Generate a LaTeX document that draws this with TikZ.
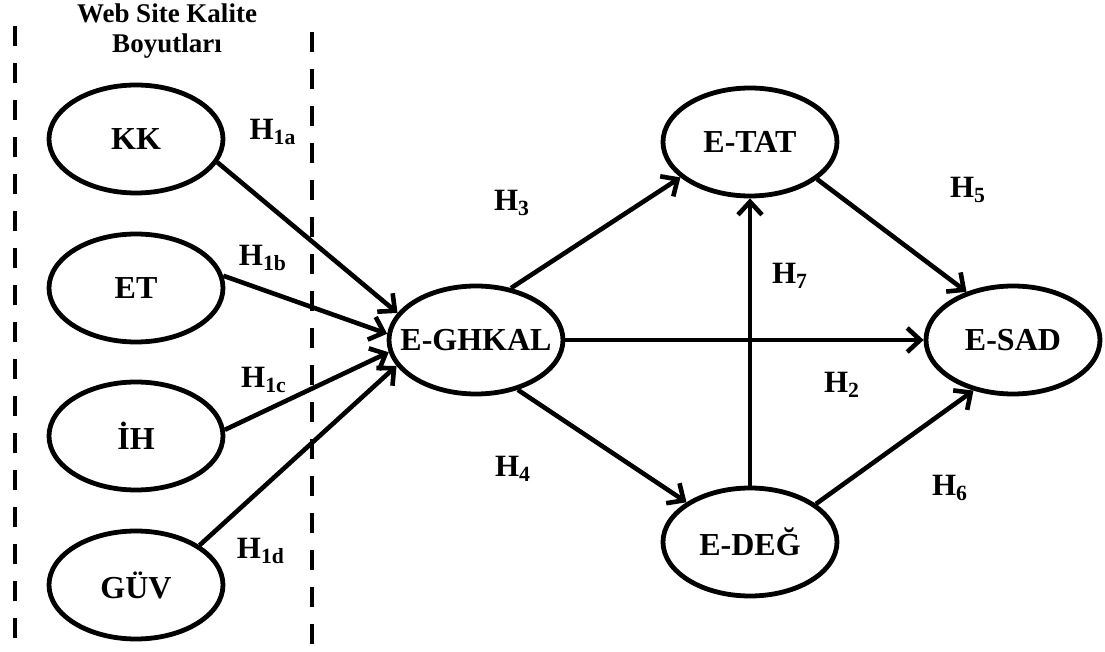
\documentclass[tikz,border=0pt]{standalone}
\usepackage{fontspec}
\setmainfont{Liberation Serif}
\usetikzlibrary{shapes.geometric,arrows.meta}

\begin{document}
\begin{tikzpicture}[x=0.5pt, y=-0.5pt, line width=2.3pt, >={Straight Barb[length=6.5pt,width=12pt]},
    main node/.style={ellipse,draw,line width=2.4pt,inner sep=0pt,minimum width=87pt,minimum height=54pt,font=\fontsize{16}{18}\selectfont\bfseries},
    hyp node/.style={inner sep=0pt,font=\fontsize{15.5}{18}\selectfont\bfseries},
    title node/.style={inner sep=0pt,align=center,font=\fontsize{13.5}{15}\selectfont\bfseries},
    dim line/.style={line width=2.4pt,dash pattern=on 10pt off 8.5pt}]

                \useasboundingbox (0,0) rectangle (1105,652);

                \node[title node] at (167,31) (title) {Web Site Kalite\\Boyutları};

                \coordinate (lefttop) at (15,26);
                \coordinate (leftbot) at (15,652);
                \coordinate (righttop) at (312,32);
                \coordinate (rightbot) at (312,652);
                \draw[dim line] (lefttop) -- (leftbot);
                \draw[dim line] (righttop) -- (rightbot);

                \node[main node] at (136,139) (kk) {KK};
                \node[main node] at (136,288) (et) {ET};
                \node[main node] at (136,436) (ih) {İH};
                \node[main node] at (136,585) (guv) {GÜV};
                \node[main node, inner xsep=-8pt] at (476,340) (eg) {E-GHKAL};
                \node[main node] at (750,142) (tat) {E-TAT};
                \node[main node] at (1013,340) (sad) {E-SAD};
                \node[main node] at (750,542) (deg) {E-DEĞ};

                \path[->] (kk.-16) edge (eg.161);
                \path[->] (et.8) edge (eg.176);
                \path[->] (ih.4) edge (eg.188);
                \path[->] (guv.32) edge (eg.198);
                \path[->] (eg.56) edge (tat.207);
                \path[->] (eg) edge (sad);
                \path[->] (eg.-50) edge (deg.148);
                \path[->] (deg) edge (tat);
                \path[->] (tat.-29) edge (sad.134);
                \path[->] (deg.30) edge (sad.232);

                \node[hyp node] at (273,132) (h1a) {H\textsubscript{1a}};
                \node[hyp node] at (263,258) (h1b) {H\textsubscript{1b}};
                \node[hyp node] at (264,380) (h1c) {H\textsubscript{1c}};
                \node[hyp node] at (261,551) (h1d) {H\textsubscript{1d}};
                \node[hyp node] at (842,385) (h2) {H\textsubscript{2}};
                \node[hyp node] at (512,203) (h3) {H\textsubscript{3}};
                \node[hyp node] at (513,469) (h4) {H\textsubscript{4}};
                \node[hyp node] at (968,190) (h5) {H\textsubscript{5}};
                \node[hyp node] at (950,488) (h6) {H\textsubscript{6}};
                \node[hyp node] at (790,276) (h7) {H\textsubscript{7}};
            \end{tikzpicture}
\end{document}
